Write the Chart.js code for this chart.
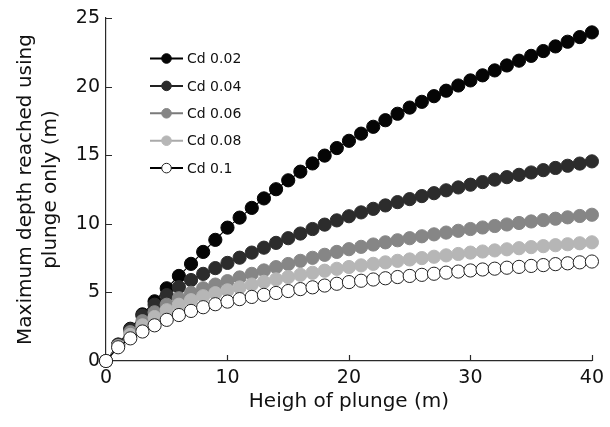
<!DOCTYPE html>
<html>
<head>
<meta charset="utf-8">
<script src="https://cdn.jsdelivr.net/npm/chart.js@4.4.0/dist/chart.umd.min.js"></script>
<style>
  html, body { margin: 0; padding: 0; background: #fff; }
  #wrap { width: 610px; height: 427px; }
</style>
</head>
<body>
<div id="wrap"><canvas id="chart"></canvas></div>
<script>
// plunge height (m)
const heights = [0,1,2,3,4,5,6,7,8,9,10,11,12,13,14,15,16,17,18,19,20,21,22,23,24,25,26,27,28,29,30,31,32,33,34,35,36,37,38,39,40];

// max depth reached (m), one list per drag coefficient
const cd002 = [0,1.2,2.35,3.4,4.35,5.3,6.2,7.08,7.95,8.83,9.72,10.45,11.16,11.85,12.52,13.17,13.8,14.4,14.97,15.52,16.05,16.57,17.07,17.55,18.02,18.47,18.89,19.3,19.7,20.08,20.45,20.82,21.18,21.54,21.89,22.24,22.59,22.93,23.27,23.61,23.95];
const cd004 = [0,1.18,2.3,3.3,4.1,4.8,5.38,5.9,6.35,6.77,7.15,7.53,7.9,8.26,8.61,8.95,9.29,9.62,9.94,10.25,10.55,10.83,11.09,11.34,11.58,11.8,12.02,12.23,12.44,12.65,12.85,13.04,13.22,13.4,13.57,13.74,13.91,14.07,14.23,14.39,14.55];
const cd006 = [0,1.1,2.1,2.9,3.55,4.1,4.57,4.97,5.3,5.57,5.82,6.09,6.35,6.6,6.84,7.07,7.3,7.52,7.74,7.95,8.15,8.32,8.49,8.65,8.8,8.95,9.09,9.23,9.36,9.49,9.62,9.73,9.84,9.95,10.06,10.17,10.27,10.37,10.47,10.57,10.66];
const cd008 = [0,1.05,1.9,2.6,3.2,3.7,4.1,4.43,4.72,4.94,5.15,5.36,5.57,5.77,5.95,6.12,6.28,6.43,6.58,6.72,6.85,6.97,7.08,7.19,7.3,7.4,7.5,7.6,7.7,7.8,7.9,7.98,8.06,8.14,8.22,8.3,8.37,8.44,8.51,8.58,8.65];
const cd010 = [0,1.0,1.65,2.15,2.6,3.0,3.35,3.65,3.92,4.14,4.33,4.51,4.67,4.82,4.96,5.1,5.24,5.37,5.5,5.63,5.75,5.85,5.94,6.03,6.12,6.2,6.28,6.36,6.44,6.52,6.6,6.67,6.73,6.8,6.86,6.93,6.99,7.06,7.12,7.19,7.25];

const seriesLabels = ['Cd 0.02', 'Cd 0.04', 'Cd 0.06', 'Cd 0.08', 'Cd 0.1'];
const seriesData = [cd002, cd004, cd006, cd008, cd010];
const fills = ['#050505', '#2c2c2c', '#868686', '#b6b6b6', '#ffffff'];
const lines = ['#000000', '#222222', '#7a7a7a', '#aaaaaa', '#000000'];

const xTicks = [0, 10, 20, 30, 40];
const yTicks = [0, 5, 10, 15, 20, 25];
const xTitle = 'Heigh of plunge (m)';
const yTitle = ['Maximum depth reached using', 'plunge only (m)'];

const FONT = 'DejaVu Sans';
const axisColor = '#2a2a2a';

const datasets = seriesData.map((vals, i) => ({
  label: seriesLabels[i],
  data: heights.map((h, j) => ({x: h, y: vals[j]})),
  borderColor: lines[i],
  borderWidth: 1.2,
  backgroundColor: fills[i],
  pointBackgroundColor: fills[i],
  pointBorderColor: i === 4 ? '#222' : fills[i],
  pointBorderWidth: 1,
  pointRadius: 6.6,
  order: 5 - i,
  clip: false
}));

// inward tick marks, axis titles and the in-plot legend
const decor = {
  id: 'decor',
  beforeDatasetsDraw(chart) {
    const {ctx, chartArea: a, scales: {x, y}} = chart;
    ctx.save();
    ctx.strokeStyle = axisColor;
    ctx.lineWidth = 1.2;
    ctx.beginPath();
    xTicks.forEach(v => {
      if (v === 0) return;
      const px = Math.round(x.getPixelForValue(v)) + 0.5;
      ctx.moveTo(px, a.bottom);
      ctx.lineTo(px, a.bottom - 6);
    });
    yTicks.forEach(v => {
      if (v === 0) return;
      const py = Math.round(y.getPixelForValue(v)) + 0.5;
      ctx.moveTo(a.left, py);
      ctx.lineTo(a.left + 6, py);
    });
    ctx.stroke();
    ctx.restore();
  },
  afterDraw(chart) {
    const {ctx, chartArea: a} = chart;
    ctx.save();
    ctx.fillStyle = '#111';
    ctx.font = '20px "' + FONT + '"';
    ctx.textAlign = 'center';
    ctx.textBaseline = 'alphabetic';
    ctx.fillText(xTitle, (a.left + a.right) / 2, 407);

    const cy = (a.top + a.bottom) / 2;
    [31, 56].forEach((bx, k) => {
      ctx.save();
      ctx.translate(bx, cy);
      ctx.rotate(-Math.PI / 2);
      ctx.fillText(yTitle[k], 0, 0);
      ctx.restore();
    });

    // legend
    ctx.font = '14px "' + FONT + '"';
    ctx.textAlign = 'left';
    ctx.textBaseline = 'middle';
    seriesLabels.forEach((lab, i) => {
      const ly = 58.5 + i * 27.4;
      ctx.strokeStyle = lines[i];
      ctx.lineWidth = 2;
      ctx.beginPath();
      ctx.moveTo(150, ly);
      ctx.lineTo(183, ly);
      ctx.stroke();
      ctx.beginPath();
      ctx.arc(166.5, ly, 4.8, 0, Math.PI * 2);
      ctx.fillStyle = fills[i];
      ctx.fill();
      ctx.lineWidth = 1;
      ctx.strokeStyle = i === 4 ? '#222' : fills[i];
      ctx.stroke();
      ctx.fillStyle = '#111';
      ctx.fillText(lab, 187, ly + 1);
    });
    ctx.restore();
  }
};

new Chart(document.getElementById('chart'), {
  type: 'line',
  data: {datasets: datasets},
  options: {
    responsive: true,
    maintainAspectRatio: false,
    animation: false,
    devicePixelRatio: 1,
    layout: {padding: {top: 18, right: 14, left: 0, bottom: 0}},
    plugins: {
      legend: {display: false},
      tooltip: {enabled: false}
    },
    scales: {
      x: {
        type: 'linear',
        min: 0,
        max: 40,
        afterBuildTicks: s => { s.ticks = xTicks.map(v => ({value: v})); },
        afterFit: s => { s.height = 66; },
        grid: {display: false, drawTicks: false},
        border: {display: true, color: axisColor, width: 1.2},
        ticks: {font: {family: FONT, size: 19}, color: '#111', padding: 6, maxRotation: 0}
      },
      y: {
        type: 'linear',
        min: 0,
        max: 25,
        afterBuildTicks: s => { s.ticks = yTicks.map(v => ({value: v})); },
        afterFit: s => { s.width = 106; },
        grid: {display: false, drawTicks: false},
        border: {display: true, color: axisColor, width: 1.2},
        ticks: {font: {family: FONT, size: 19}, color: '#111', padding: 6}
      }
    }
  },
  plugins: [decor]
});
</script>
</body>
</html>
